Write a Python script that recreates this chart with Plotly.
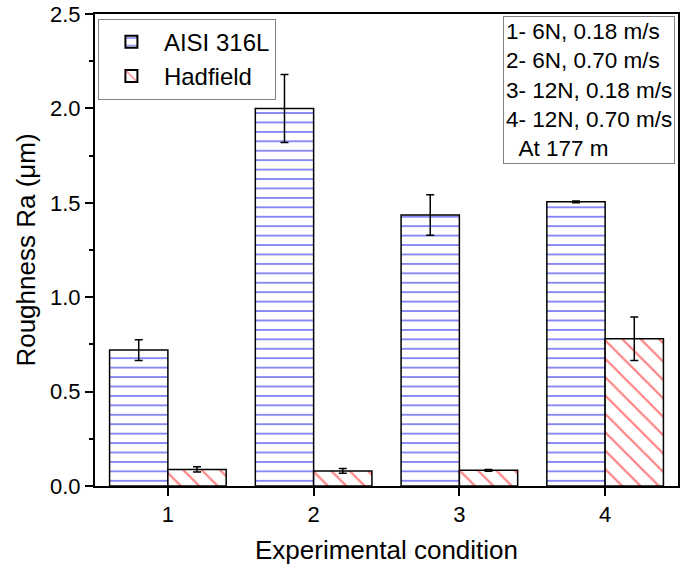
import plotly.graph_objects as go

conditions = [1, 2, 3, 4]
aisi_ra = [0.72, 2.0, 1.435, 1.505]
aisi_err = [0.055, 0.18, 0.107, 0.005]
hadfield_ra = [0.088, 0.08, 0.083, 0.78]
hadfield_err = [0.014, 0.013, 0.005, 0.115]
note_lines = ["1- 6N, 0.18 m/s", "2- 6N, 0.70 m/s", "3- 12N, 0.18 m/s", "4- 12N, 0.70 m/s",
              "\u00a0\u00a0At 177 m"]

FONT = "Arial, Liberation Sans, sans-serif"

fig = go.Figure()
fig.add_trace(go.Bar(
    x=conditions, y=aisi_ra, name="AISI 316L",
    marker=dict(color="white", line=dict(color="black", width=1.5),
                pattern=dict(shape="-", fgcolor="#1010ee", bgcolor="white",
                             size=9.43, solidity=0.2, fillmode="overlay")),
    error_y=dict(type="data", array=aisi_err, color="black", thickness=1.5, width=4),
))
fig.add_trace(go.Bar(
    x=conditions, y=hadfield_ra, name="Hadfield",
    marker=dict(color="white", line=dict(color="black", width=1.5),
                pattern=dict(shape="\\", fgcolor="#ff0000", bgcolor="white",
                             size=13, solidity=0.17, fillmode="overlay")),
    error_y=dict(type="data", array=hadfield_err, color="black", thickness=1.5, width=4),
))

fig.add_annotation(
    xref="paper", yref="paper", x=0.70, y=0.996, xanchor="left", yanchor="top",
    text="<br>".join(note_lines), showarrow=False, align="left",
    font=dict(family=FONT, size=22.5, color="black"),
    bordercolor="#808080", borderwidth=1, borderpad=2, bgcolor="white",
)

fig.update_layout(
    width=685, height=575,
    margin=dict(l=95, r=7, t=14, b=89, autoexpand=False),
    paper_bgcolor="white", plot_bgcolor="white",
    barmode="group", bargap=0.2, bargroupgap=0,
    font=dict(family=FONT, color="black"),
    showlegend=True,
    legend=dict(x=0.005, y=0.99, xanchor="left", yanchor="top",
                bordercolor="#808080", borderwidth=1, bgcolor="white",
                font=dict(family=FONT, size=24, color="black"),
                tracegroupgap=0, itemsizing="constant", itemwidth=55),
)
fig.update_xaxes(
    range=[0.5, 4.5], tickmode="array", tickvals=conditions,
    ticks="outside", ticklen=8, tickwidth=1.5, tickcolor="black",
    showline=True, linecolor="black", linewidth=2, mirror=True,
    showgrid=False, zeroline=False,
    tickfont=dict(family=FONT, size=22),
    title=dict(text="Experimental condition", font=dict(family=FONT, size=26), standoff=14),
)
fig.update_yaxes(
    range=[0, 2.5], tickmode="linear", tick0=0, dtick=0.5, tickformat=".1f",
    ticks="outside", ticklen=8, tickwidth=1.5, tickcolor="black",
    minor=dict(dtick=0.25, ticks="outside", ticklen=4, tickwidth=1.5, tickcolor="black"),
    showline=True, linecolor="black", linewidth=2, mirror=True,
    showgrid=False, zeroline=False,
    tickfont=dict(family=FONT, size=22),
    title=dict(text="Roughness Ra (\u03bcm)", font=dict(family=FONT, size=26), standoff=7),
)

fig.write_html("out.html", config={"displayModeBar": False},
               post_script="document.body.style.margin='0';document.body.style.overflow='hidden';")
